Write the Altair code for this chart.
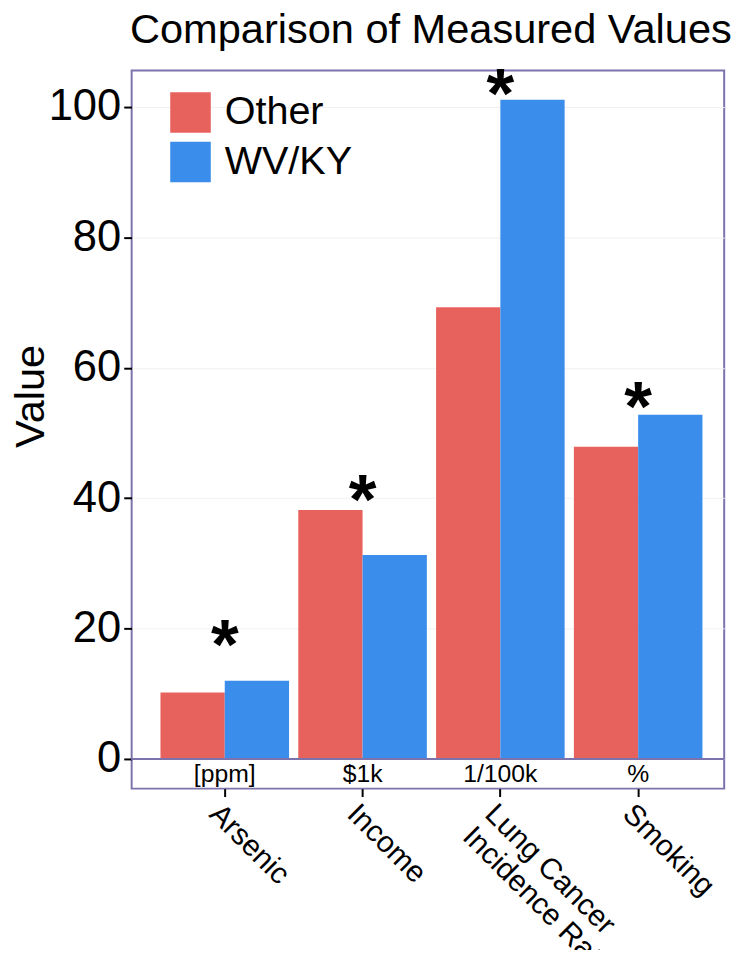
import altair as alt
import pandas as pd

categories = ["Arsenic", "Income", "Lung Cancer\nIncidence Rate", "Smoking"]
units = ["[ppm]", "$1k", "1/100k", "%"]
series = ["Other", "WV/KY"]
other_vals = [10.2, 38.2, 69.3, 47.9]
wvky_vals = [12.0, 31.3, 101.1, 52.8]
star_y = [17.1, 39.4, 101.6, 53.6]

FONT = "Liberation Sans"
PURPLE = "#7C72AC"
RED = "#E8625D"
BLUE = "#3A8DEB"

rows = []
for c, o, w in zip(categories, other_vals, wvky_vals):
    rows.append({"category": c, "group": "Other", "value": o})
    rows.append({"category": c, "group": "WV/KY", "value": w})
bars_df = pd.DataFrame(rows)
units_df = pd.DataFrame({"category": categories, "unit": units, "y": [-2.3] * len(categories)})
star_df = pd.DataFrame({"category": categories, "y": star_y, "t": ["*"] * len(categories)})

x_scale = alt.Scale(paddingInner=0.067, paddingOuter=0.1835, align=0.57)

x_enc = alt.X(
    "category:N",
    sort=categories,
    scale=x_scale,
    axis=alt.Axis(
        title=None,
        domain=False,
        ticks=True,
        tickColor="black",
        tickSize=8,
        tickWidth=2,
        labelAngle=45,
        labelAlign="left",
        labelBaseline="top",
        labelFontSize=30,
        labelFont=FONT,
        labelColor="black",
        labelPadding=2,
        labelLimit=400,
        labelExpr="split(datum.label, '\\n')",
        labelLineHeight=32,
        grid=False,
    ),
)

y_scale = alt.Scale(domain=[-4.55, 105.6], nice=False, zero=False)

bars = alt.Chart(bars_df).mark_bar(opacity=1).encode(
    x=x_enc,
    xOffset=alt.XOffset("group:N", sort=series),
    y=alt.Y(
        "value:Q",
        scale=y_scale,
        axis=alt.Axis(
            title="Value",
            values=[0, 20, 40, 60, 80, 100],
            domain=False,
            tickColor="black",
            tickSize=8,
            tickWidth=2,
            labelFontSize=44,
            labelFont=FONT,
            labelColor="black",
            labelPadding=3,
            titleFontSize=42,
            titleFont=FONT,
            titleFontWeight="normal",
            titleColor="black",
            titleX=-80,
            titleY=329,
            grid=True,
            gridColor="#f1f1f4",
        ),
    ),
    y2=alt.datum(0),
    color=alt.Color(
        "group:N",
        sort=series,
        scale=alt.Scale(domain=series, range=[RED, BLUE]),
        legend=alt.Legend(
            title=None,
            orient="none",
            legendX=39,
            legendY=22,
            symbolType="square",
            symbolSize=1681,
            symbolStrokeWidth=0,
            symbolOpacity=1,
            labelFontSize=40,
            labelFont=FONT,
            labelColor="black",
            labelOffset=14,
            rowPadding=9,
            padding=0,
        ),
    ),
)

zero_rule = alt.Chart(units_df).mark_rule(color=PURPLE, strokeWidth=2).encode(
    y=alt.datum(0, scale=y_scale)
)

unit_text = alt.Chart(units_df).mark_text(
    font=FONT, fontSize=25, color="black", baseline="middle"
).encode(
    x=alt.X("category:N", sort=categories),
    y=alt.Y("y:Q", scale=y_scale),
    text="unit:N",
)

stars = alt.Chart(star_df).mark_text(
    font=FONT, fontSize=72, fontWeight="bold", color="black", baseline="middle"
).encode(
    x=alt.X("category:N", sort=categories),
    y=alt.Y("y:Q", scale=y_scale),
    text="t:N",
)

chart = (
    alt.layer(bars, zero_rule, unit_text, stars)
    .properties(
        width=599,
        height=726,
        title=alt.TitleParams(
            "Comparison of Measured Values",
            font=FONT,
            fontSize=42,
            fontWeight="normal",
            color="black",
            anchor="middle",
            offset=9,
            dx=3,
        ),
        autosize=alt.AutoSizeParams(type="none"),
        padding={"left": 125, "top": 58, "right": 17, "bottom": 158},
    )
    .configure(background="white")
    .configure_view(stroke=PURPLE, strokeWidth=2)
)

chart.save("out.html", embed_options={"renderer": "svg", "actions": False})
